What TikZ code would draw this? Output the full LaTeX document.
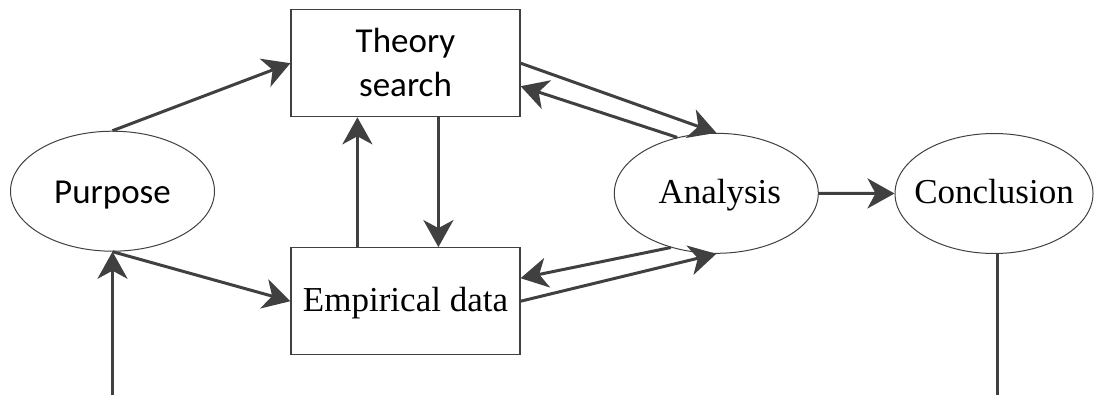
\documentclass[tikz,border=0pt]{standalone}
\usepackage{fontspec}
\setmainfont{Liberation Serif}
\newfontfamily\calibfont{Carlito}
\usetikzlibrary{arrows.meta,shapes.geometric,calc}
\definecolor{ink}{HTML}{404040}

\begin{document}
\begin{tikzpicture}[x=1pt,y=-1pt,
  box/.style={draw=ink,line width=1.2pt,rectangle,inner sep=0pt,
    minimum width=229pt,minimum height=107pt},
  oval/.style={draw=ink,line width=1pt,ellipse,inner sep=0pt,
    minimum width=204pt,minimum height=120pt},
  serif/.style={font=\fontsize{35}{42}\selectfont,text height=22pt,text depth=2pt},
  sans/.style={font=\calibfont\fontsize{35}{44}\selectfont},
  link/.style={draw=ink,line width=3pt,
    -{Stealth[length=27pt,width=30pt,inset=8pt]}}
]
\useasboundingbox (0,0) rectangle (1094,394);

% stages of the process
\node[oval,sans,text height=24pt,text depth=0pt] (purpose) at (112.5,191.2)
  {\makebox[0pt]{Purpose}};
\node[box,sans,align=center,text height=67pt,text depth=0pt] (theory) at (405.5,63.2)
  {Theory\\search};
\node[box,serif] (empirical) at (405.5,301.2) {\makebox[0pt]{Empirical data}};
\node[oval,serif] (analysis) at (716.3,193.3)
  {\makebox[0pt]{\hspace{7pt}Analysis}};
\node[oval,serif,minimum width=198pt] (conclusion) at (994,193.5)
  {\makebox[0pt]{Conclusion}};

% flows between the stages
\draw[link] (purpose.north) -- (theory.west);
\draw[link] (purpose.south) -- (empirical.west);
\draw[link] ([xshift=67pt]empirical.north west) -- ([xshift=67pt]theory.south west);
\draw[link] ([xshift=148pt]theory.south west) -- ([xshift=148pt]empirical.north west);
\draw[link] (theory.east) -- (analysis.north);
\draw[link] (analysis.125) -- ([yshift=-23pt]theory.east);
\draw[link] (analysis.230) -- ([yshift=23pt]empirical.east);
\draw[link] (empirical.east) -- (analysis.south);
\draw[link] (analysis.east) -- (conclusion.west);

% feedback loop from the conclusion back to the purpose
\coordinate (floor) at (0,396);
\coordinate (drop) at ($(conclusion.south)+(3,0)$);
\draw[link] (drop) -- (drop |- floor) -| (purpose.south);
\end{tikzpicture}
\end{document}
